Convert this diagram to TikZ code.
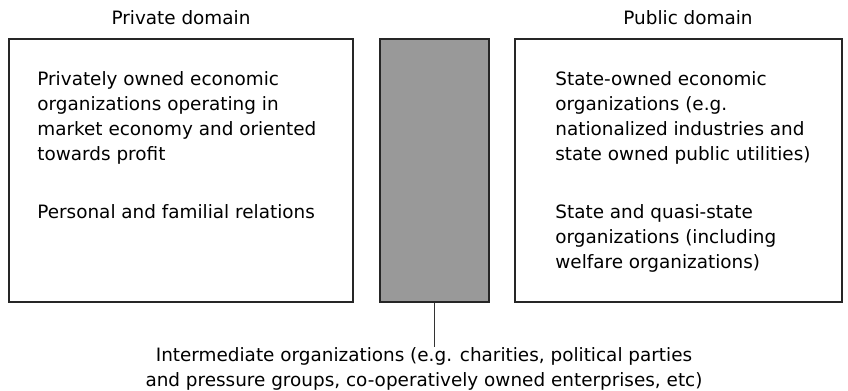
\documentclass[tikz,border=0pt]{standalone}
\usepackage{fontspec}
\setmainfont{DejaVu Sans}
\usetikzlibrary{positioning}
\definecolor{midgray}{RGB}{153,153,153}
\tikzset{
  domainbox/.style={draw=black!85, line width=0.6pt, minimum height=131.5pt, inner sep=0pt},
  txt/.style={align=left, inner sep=0pt, font=\fontsize{9.2}{12.5}\selectfont},
}
\begin{document}
\begin{tikzpicture}[x=0.5pt, y=-0.5pt]
\useasboundingbox (0,0) rectangle (848,391);
\node[domainbox, minimum width=172pt](P)at(181,170.5){};
\node[domainbox, minimum width=54.5pt, fill=midgray](I)at(434.5,170.5){};
\node[domainbox, minimum width=163.5pt](U)at(678.5,170.5){};
%
\node[txt](PD)at(181,18){Private domain};
\node[txt](UD)at(688,18){Public domain};
%
\node[txt, anchor=north west](PT)at(37,71){Privately owned economic\\
organizations operating in\\
market economy and oriented\\
towards profit\\[16.5pt]
Personal and familial relations};
\node[txt, anchor=north west](UT)at(555,71){State-owned economic\\
organizations (e.g.\\
nationalized industries and\\
state owned public utilities)\\[16.5pt]
State and quasi-state\\
organizations (including\\
welfare organizations)};
%
\node[txt, align=center](IT)at(424,368.5){Intermediate organizations (e.g. charities, political parties\\
and pressure groups, co-operatively owned enterprises, etc)};
\draw[black!80, line width=0.75pt](I.south)--(I.south|-IT.north);
\end{tikzpicture}
\end{document}
